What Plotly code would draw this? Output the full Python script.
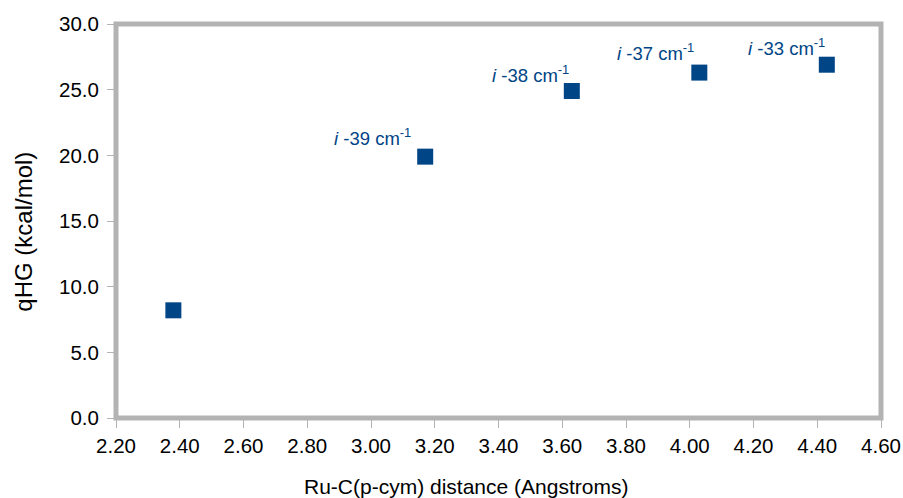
import plotly.graph_objects as go

distance = [2.38, 3.17, 3.63, 4.03, 4.43]
qhg = [8.2, 19.9, 24.9, 26.3, 26.9]
freq_labels = [None, "<i>i</i> -39 cm<sup>-1</sup>", "<i>i</i> -38 cm<sup>-1</sup>",
               "<i>i</i> -37 cm<sup>-1</sup>", "<i>i</i> -33 cm<sup>-1</sup>"]
x_ticks = [2.2 + 0.2 * i for i in range(13)]
y_ticks = [0, 5, 10, 15, 20, 25, 30]

# label placement offsets (pixels) relative to each marker
label_dx = [0, -12, -1, -3, 0]
label_dy = [0, 20, 16.5, 21, 18]

BLUE = "#004586"
GRAY = "#b3b3b3"
FONT = "Liberation Sans"

fig = go.Figure()
fig.add_trace(go.Scatter(
    x=distance, y=qhg, mode="markers",
    marker=dict(symbol="square", size=16, color=BLUE, line=dict(width=0)),
    hoverinfo="x+y", showlegend=False,
))

for xv, yv, t, dx, dy in zip(distance, qhg, freq_labels, label_dx, label_dy):
    if t is None:
        continue
    fig.add_annotation(
        x=xv, y=yv, text=t, showarrow=False,
        xanchor="right", yanchor="middle", xshift=dx, yshift=dy,
        font=dict(family=FONT, size=18.5, color=BLUE),
    )

# axis titles
fig.add_annotation(
    xref="paper", yref="paper", x=0.4575, y=-0.175,
    text="Ru-C(p-cym) distance (Angstroms)", showarrow=False,
    xanchor="center", yanchor="middle",
    font=dict(family=FONT, size=21, color="#000000"),
)
fig.add_annotation(
    xref="paper", yref="paper", x=-0.122, y=0.472,
    text="qHG (kcal/mol)", showarrow=False, textangle=-90,
    xanchor="center", yanchor="middle",
    font=dict(family=FONT, size=24, color="#000000"),
)

# plot-area frame
fig.add_shape(type="rect", xref="paper", yref="paper", x0=0, x1=1, y0=0, y1=1,
              line=dict(color=GRAY, width=5), layer="below")

fig.update_layout(
    width=903, height=498,
    margin=dict(l=116, r=22, t=24, b=80),
    paper_bgcolor="white", plot_bgcolor="white",
    font=dict(family=FONT, size=20.5, color="#000000"),
    xaxis=dict(
        range=[2.2, 4.6], tickvals=x_ticks,
        ticktext=[f"{v:.2f}" for v in x_ticks],
        showgrid=False, zeroline=False, showline=False, automargin=False,
        ticks="outside", ticklen=9, tickcolor=GRAY, tickwidth=1,
        tickfont=dict(family=FONT, size=20.5),
    ),
    yaxis=dict(
        range=[0, 30], tickvals=y_ticks,
        ticktext=[f"{v:.1f}" for v in y_ticks],
        showgrid=False, zeroline=False, showline=False, automargin=False,
        ticks="outside", ticklen=8, tickcolor=GRAY, tickwidth=1,
        ticklabelstandoff=4,
        tickfont=dict(family=FONT, size=20.5),
    ),
)

# remove the default 8px page margin so the figure fills the window exactly
fig.write_html(
    "out.html",
    config={"displayModeBar": False},
    post_script="document.body.style.margin='0';document.body.style.overflow='hidden';",
)
